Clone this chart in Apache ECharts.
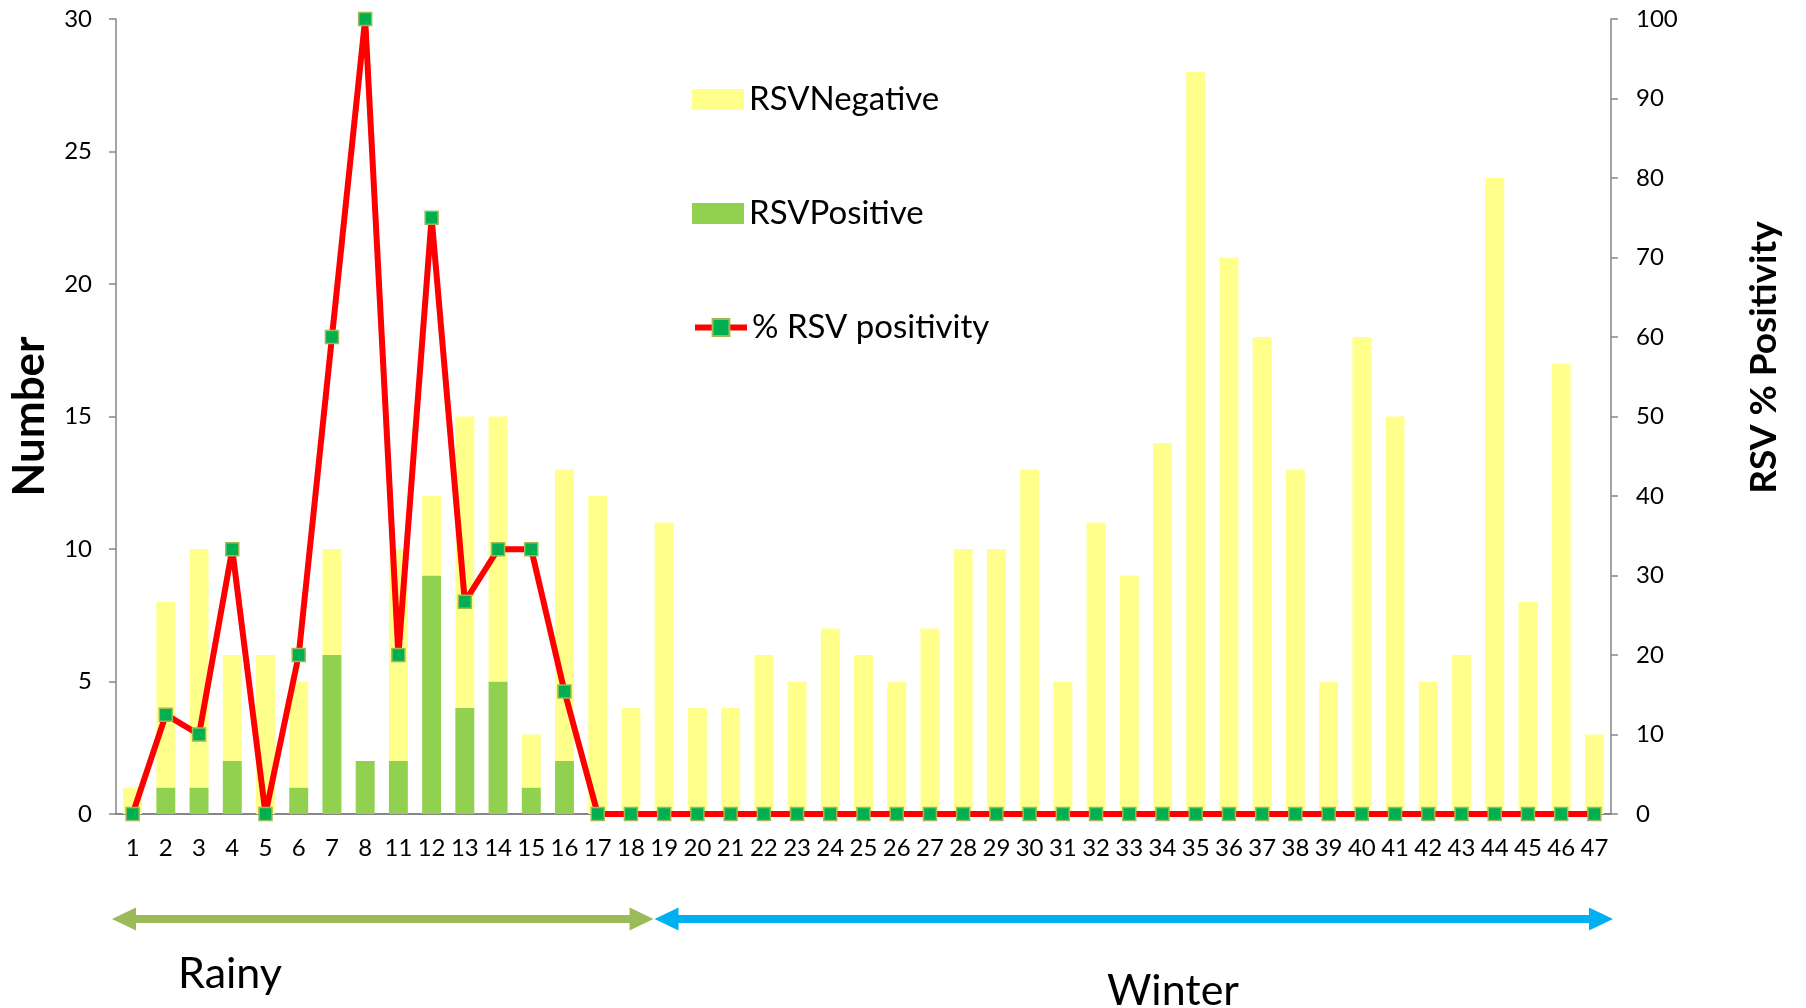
<!DOCTYPE html>
<html>
<head>
<meta charset="utf-8">
<title>RSV</title>
<script src="https://cdn.jsdelivr.net/npm/echarts@6/dist/echarts.min.js"></script>
<style>
    html, body { margin: 0; padding: 0; background: #fff; }
    #main { width: 1806px; height: 1008px; }
</style>
</head>
<body>
<div id="main"></div>
<script>
// 周次 (9, 10 没有)
var weeks = ['1','2','3','4','5','6','7','8','11','12','13','14','15','16','17','18','19','20','21','22','23','24','25','26','27','28','29','30','31','32','33','34','35','36','37','38','39','40','41','42','43','44','45','46','47'];
var rsvPositive = [0,1,1,2,0,1,6,2,2,9,4,5,1,2,0,0,0,0,0,0,0,0,0,0,0,0,0,0,0,0,0,0,0,0,0,0,0,0,0,0,0,0,0,0,0];
var rsvNegative = [1,7,9,4,6,4,4,0,8,3,11,10,2,11,12,4,11,4,4,6,5,7,6,5,7,10,10,13,5,11,9,14,28,21,18,13,5,18,15,5,6,24,8,17,3];
var rsvPct = [0,12.5,10,33.3,0,20,60,100,20,75,26.7,33.3,33.3,15.4,0,0,0,0,0,0,0,0,0,0,0,0,0,0,0,0,0,0,0,0,0,0,0,0,0,0,0,0,0,0,0];
var numberTicks = { min: 0, max: 30, interval: 5 };
var pctTicks = { min: 0, max: 100, interval: 10 };

var FONT = 'Lato, "Open Sans", sans-serif';
var AXIS_GRAY = '#868686';

function draw_rsv_chart() {
    var chart = echarts.init(document.getElementById('main'));

    var legendText = { fontFamily: FONT, fontSize: 33, color: '#000', lineHeight: 21 };
    var option = {
        animation: false,
        grid: { left: 115, right: 195, top: 19, bottom: 194, containLabel: false },
        legend: [
            { left: 692, top: 83, padding: 0, icon: 'rect', itemWidth: 52, itemHeight: 21, textStyle: legendText, data: ['RSVNegative'] },
            { left: 692, top: 197, padding: 0, icon: 'rect', itemWidth: 52, itemHeight: 21, textStyle: legendText, data: ['RSVPositive'] },
            { left: 692, top: 311, padding: 0, itemWidth: 52, itemHeight: 21, textStyle: legendText,
              lineStyle: { width: 6 }, data: ['% RSV positivity'] }
        ],
        xAxis: {
            type: 'category',
            data: weeks,
            axisLine: { lineStyle: { color: AXIS_GRAY, width: 2 } },
            axisTick: { show: false },
            axisLabel: { interval: 0, margin: 22, color: '#000', fontFamily: FONT, fontSize: 24 }
        },
        yAxis: [
            {
                type: 'value',
                min: numberTicks.min, max: numberTicks.max, interval: numberTicks.interval,
                name: 'Number',
                nameLocation: 'middle',
                nameRotate: 90,
                nameGap: 64,
                nameTextStyle: { fontFamily: FONT, fontSize: 44, fontWeight: 'bold', color: '#000' },
                splitLine: { show: false },
                axisLine: { show: true, lineStyle: { color: AXIS_GRAY, width: 1.5 } },
                axisTick: { show: true, length: 7, lineStyle: { color: AXIS_GRAY, width: 1.5 } },
                axisLabel: { margin: 24, color: '#000', fontFamily: FONT, fontSize: 24 }
            },
            {
                type: 'value',
                position: 'right',
                min: pctTicks.min, max: pctTicks.max, interval: pctTicks.interval,
                name: 'RSV % Positivity',
                nameLocation: 'middle',
                nameRotate: 90,
                nameGap: 135,
                nameTextStyle: { fontFamily: FONT, fontSize: 37, fontWeight: 'bold', color: '#000', padding: [0, 0, 0, 118] },
                splitLine: { show: false },
                axisLine: { show: true, lineStyle: { color: AXIS_GRAY, width: 1.5 } },
                axisTick: { show: true, length: 7, lineStyle: { color: AXIS_GRAY, width: 1.5 } },
                axisLabel: { margin: 25, color: '#000', fontFamily: FONT, fontSize: 24 }
            }
        ],
        series: [
            {
                name: 'RSVPositive',
                type: 'bar',
                stack: 'rsv',
                barCategoryGap: '43%',
                itemStyle: { color: '#92D050' },
                data: rsvPositive
            },
            {
                name: 'RSVNegative',
                type: 'bar',
                stack: 'rsv',
                itemStyle: { color: '#FFFF8C' },
                data: rsvNegative
            },
            {
                name: '% RSV positivity',
                type: 'line',
                yAxisIndex: 1,
                symbol: 'rect',
                symbolSize: 13,
                z: 5,
                lineStyle: { color: '#FF0000', width: 6 },
                itemStyle: { color: '#00B050', borderColor: '#9BBB59', borderWidth: 1.5 },
                data: rsvPct
            }
        ]
    };
    chart.setOption(option);

    // 季节箭头: 按坐标轴位置算
    var x1 = chart.convertToPixel({ xAxisIndex: 0 }, '1');
    var step = chart.convertToPixel({ xAxisIndex: 0 }, '2') - x1;
    var leftX = x1 - step / 2 - 4;
    var rightX = chart.convertToPixel({ xAxisIndex: 0 }, '47') + step / 2 + 2;
    var splitX = (chart.convertToPixel({ xAxisIndex: 0 }, '18') + chart.convertToPixel({ xAxisIndex: 0 }, '19')) / 2 + 6;
    var arrowY = 919;

    function arrow(a, b, color) {
        var head = 24, half = 11.5, th = 4;
        return [{
            type: 'rect',
            shape: { x: a + head - 2, y: arrowY - th, width: b - a - 2 * head + 4, height: 2 * th },
            style: { fill: color }
        }, {
            type: 'polygon',
            shape: { points: [[b, arrowY], [b - head, arrowY - half], [b - head, arrowY + half]] },
            style: { fill: color }
        }, {
            type: 'polygon',
            shape: { points: [[a, arrowY], [a + head, arrowY - half], [a + head, arrowY + half]] },
            style: { fill: color }
        }];
    }

    var g = [].concat(
        arrow(leftX, splitX, '#9BBB59'),
        arrow(splitX + 1, rightX, '#00B0F0')
    );
    g.push({
        type: 'text', x: 230, y: 974,
        style: { text: 'Rainy', font: '43px ' + FONT, fill: '#000', align: 'center', verticalAlign: 'middle' }
    });
    g.push({
        type: 'text', x: 1173, y: 991,
        style: { text: 'Winter', font: '43px ' + FONT, fill: '#000', align: 'center', verticalAlign: 'middle' }
    });
    chart.setOption({ graphic: g });
}

draw_rsv_chart();
</script>
</body>
</html>
